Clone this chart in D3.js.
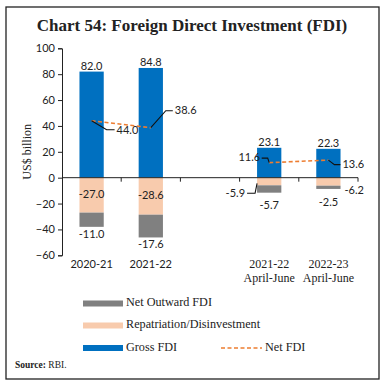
<!DOCTYPE html>
<html>
<head>
<meta charset="utf-8">
<script src="https://cdn.jsdelivr.net/npm/d3@7"></script>
<style>
  body { margin: 0; background: #fff; }
  svg { display: block; }
</style>
</head>
<body>
<div id="chart"></div>
<script>
// chart data (US$ billion)
const periods = ["2020-21", "2021-22", "", "2021-22|April-June", "2022-23|April-June"];
const grossFDI = [82.0, 84.8, null, 23.1, 22.3];
const repatriation = [-27.0, -28.6, null, -5.9, -6.2];
const netOutward = [-11.0, -17.6, null, -5.7, -2.5];
const netFDI = [44.0, 38.6, null, 11.6, 13.6];
const yTicks = [-60, -40, -20, 0, 20, 40, 60, 80, 100];

const W = 386, H = 388;
const serif = "'Liberation Serif', 'DejaVu Serif', serif";
const sans = "Lato, 'Liberation Sans', sans-serif";

const colors = {
    gross: "#0070c0",
    repat: "#f8cbad",
    outward: "#808080",
    net: "#ed7d31"
};

const svg = d3.select("#chart").append("svg")
    .attr("width", W).attr("height", H);

svg.append("rect").attr("width", W).attr("height", H).attr("fill", "#fff");

// frame
svg.append("rect")
    .attr("x", 6).attr("y", 7)
    .attr("width", 373).attr("height", 372)
    .attr("fill", "none").attr("stroke", "#222").attr("stroke-width", 1.3);

// title
svg.append("text")
    .attr("x", 192).attr("y", 31)
    .attr("text-anchor", "middle")
    .attr("font-family", serif).attr("font-weight", "bold")
    .attr("font-size", "17px").attr("fill", "#222")
    .text("Chart 54: Foreign Direct Investment (FDI)");

const x = d3.scaleBand().domain(periods).range([62, 358]).padding(0);
const y = d3.scaleLinear().domain([-60, 100]).range([255.3, 48.3]);
const barW = x.bandwidth() * 0.41;
const cx = d => x(d) + x.bandwidth() / 2;

// y axis
const yAxis = svg.append("g")
    .attr("transform", "translate(62,0)")
    .call(d3.axisLeft(y).tickValues(yTicks).tickSize(4).tickSizeOuter(4).tickPadding(3));
yAxis.select(".domain").attr("stroke", "#222");
yAxis.selectAll(".tick line").attr("stroke", "#222");
yAxis.selectAll(".tick text")
    .attr("font-family", sans).attr("font-size", "11px").attr("fill", "#222");

svg.append("text")
    .attr("transform", "translate(31," + y(20) + ") rotate(-90)")
    .attr("text-anchor", "middle")
    .attr("font-family", serif).attr("font-size", "12px").attr("fill", "#222")
    .text("US$ billion");

// bars
const rows = periods.map((p, i) => ({
    p: p, gross: grossFDI[i], repat: repatriation[i], out: netOutward[i], net: netFDI[i], i: i
})).filter(d => d.gross != null);

const g = svg.append("g");

g.selectAll(".gross").data(rows).enter().append("rect")
    .attr("x", d => cx(d.p) - barW / 2)
    .attr("y", d => y(d.gross))
    .attr("width", barW)
    .attr("height", d => y(0) - y(d.gross))
    .attr("fill", colors.gross);

g.selectAll(".repat").data(rows).enter().append("rect")
    .attr("x", d => cx(d.p) - barW / 2)
    .attr("y", y(0))
    .attr("width", barW)
    .attr("height", d => y(d.repat) - y(0))
    .attr("fill", colors.repat);

g.selectAll(".out").data(rows).enter().append("rect")
    .attr("x", d => cx(d.p) - barW / 2)
    .attr("y", d => y(d.repat))
    .attr("width", barW)
    .attr("height", d => y(d.repat + d.out) - y(d.repat))
    .attr("fill", colors.outward);

// zero line with band ticks
svg.append("line")
    .attr("x1", 62).attr("x2", 358)
    .attr("y1", y(0)).attr("y2", y(0))
    .attr("stroke", "#222");
svg.selectAll(".xtick").data(periods).enter().append("line")
    .attr("x1", d => x(d) + x.bandwidth()).attr("x2", d => x(d) + x.bandwidth())
    .attr("y1", y(0)).attr("y2", y(0) + 4)
    .attr("stroke", "#222");

// net FDI line
const line = d3.line()
    .defined(d => d != null)
    .x((d, i) => cx(periods[i]))
    .y(d => y(d));
svg.append("path")
    .datum(netFDI)
    .attr("d", line)
    .attr("fill", "none")
    .attr("stroke", colors.net)
    .attr("stroke-width", 1.6)
    .attr("stroke-dasharray", "4,2.5");

// labels
const lbl = (xx, yy, t, anchor) => svg.append("text")
    .attr("x", xx).attr("y", yy)
    .attr("text-anchor", anchor || "middle")
    .attr("dominant-baseline", "middle")
    .attr("font-family", sans).attr("font-size", "11px").attr("fill", "#222")
    .text(t);
const leader = pts => svg.append("path")
    .attr("d", d3.line()(pts))
    .attr("fill", "none").attr("stroke", "#111").attr("stroke-width", 1.1);

rows.forEach(d => {
    lbl(cx(d.p), y(d.gross) - 4.5, d.gross.toFixed(1));
});

// repatriation labels
const r0 = rows[0], r1 = rows[1], r3 = rows[2], r4 = rows[3];
lbl(cx(r0.p), y(r0.repat / 2), r0.repat.toFixed(1));
lbl(cx(r1.p), y(r1.repat / 2), r1.repat.toFixed(1));
{
    const bl = cx(r3.p) - barW / 2;
    const py = y(r3.repat) - 2;
    leader([[bl, py], [bl - 2, py + 10], [bl - 10, py + 10]]);
    lbl(bl - 12, py + 10.5, r3.repat.toFixed(1), "end");
}
lbl(cx(r4.p) + barW / 2 + 4, y(r4.repat) + 6, r4.repat.toFixed(1), "start");

// net outward labels
const outDy = [8, 8, 14, 14];
rows.forEach((d, k) => {
    lbl(cx(d.p), y(d.repat + d.out) + outDy[k], d.out.toFixed(1));
});

// net FDI labels
{
    const px = cx(r0.p), py = y(r0.net);
    leader([[px, py], [px + 15, py + 9], [px + 23, py + 9]]);
    lbl(px + 25, py + 10, r0.net.toFixed(1), "start");
}
{
    const px = cx(r1.p), py = y(r1.net);
    leader([[px, py], [px + 15, py - 17], [px + 22, py - 17]]);
    lbl(px + 24, py - 16.5, r1.net.toFixed(1), "start");
}
{
    const px = cx(r3.p), py = y(r3.net);
    leader([[px, py], [px - 1.5, py - 4.5], [px - 7.5, py - 4.5]]);
    lbl(px - 9, py - 4, r3.net.toFixed(1), "end");
}
{
    const px = cx(r4.p), py = y(r4.net);
    leader([[px, py], [px + 6, py + 4.5], [px + 12, py + 4.5]]);
    lbl(px + 14, py + 5, r4.net.toFixed(1), "start");
}

// category labels
periods.forEach(p => {
    if (!p) return;
    const parts = p.split("|");
    const t = svg.append("text")
        .attr("x", cx(p)).attr("y", 268)
        .attr("text-anchor", "middle")
        .attr("font-family", parts.length > 1 ? serif : sans)
        .attr("font-size", parts.length > 1 ? "12px" : "11px")
        .attr("fill", "#222");
    parts.forEach((s, k) => {
        t.append("tspan").attr("x", cx(p)).attr("dy", k ? 13.5 : 0).text(s);
    });
});

// legend
const legendItems = [
    { name: "Net Outward FDI", color: colors.outward, x: 83, y: 303.5 },
    { name: "Repatriation/Disinvestment", color: colors.repat, x: 83, y: 325.5 },
    { name: "Gross FDI", color: colors.gross, x: 83, y: 348 }
];
const leg = svg.selectAll(".legend").data(legendItems).enter().append("g");
leg.append("rect")
    .attr("x", d => d.x).attr("y", d => d.y - 3)
    .attr("width", 40).attr("height", 6)
    .attr("fill", d => d.color);
leg.append("text")
    .attr("x", d => d.x + 43).attr("y", d => d.y)
    .attr("dominant-baseline", "middle")
    .attr("font-family", serif).attr("font-size", "12.2px").attr("fill", "#222")
    .text(d => d.name);

svg.append("line")
    .attr("x1", 221).attr("x2", 262).attr("y1", 348).attr("y2", 348)
    .attr("stroke", colors.net).attr("stroke-width", 1.6)
    .attr("stroke-dasharray", "4,2.5");
svg.append("text")
    .attr("x", 265).attr("y", 348)
    .attr("dominant-baseline", "middle")
    .attr("font-family", serif).attr("font-size", "12.2px").attr("fill", "#222")
    .text("Net FDI");

// source
const src = svg.append("text")
    .attr("x", 15).attr("y", 368)
    .attr("font-family", serif).attr("font-size", "9.5px").attr("fill", "#222");
src.append("tspan").attr("font-weight", "bold").text("Source:");
src.append("tspan").text(" RBI.");
</script>
</body>
</html>
